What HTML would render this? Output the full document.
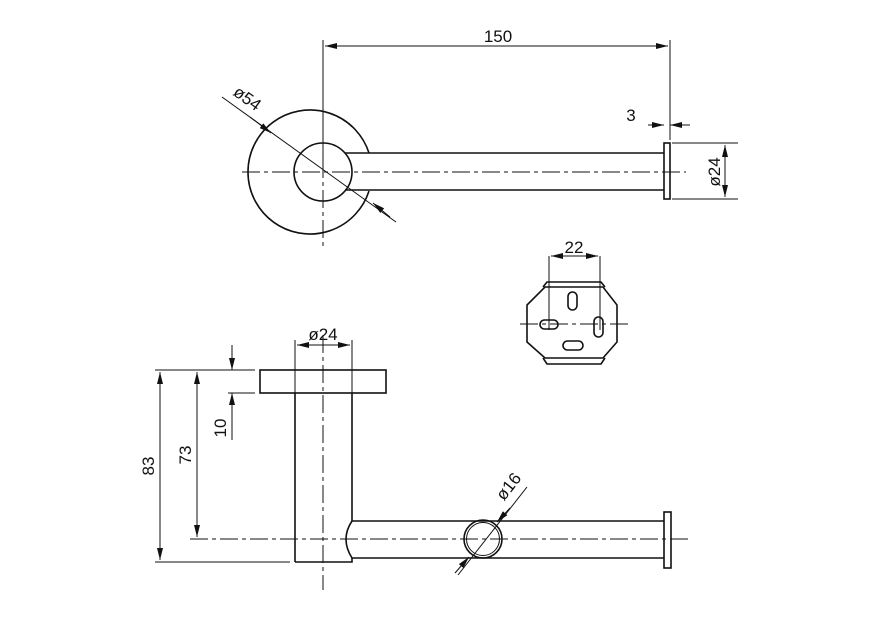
<!DOCTYPE html>
<html><head><meta charset="utf-8"><style>body{margin:0;background:#fff}svg{display:block}text{font-family:"Liberation Sans",sans-serif;font-size:17px;fill:#111}</style></head><body>
<svg width="884" height="630" viewBox="0 0 884 630" xmlns="http://www.w3.org/2000/svg">
<defs><marker id="a" viewBox="0 0 12 6" refX="12" refY="3" markerWidth="12" markerHeight="6" orient="auto-start-reverse" markerUnits="userSpaceOnUse"><path d="M0,0L12,3L0,6z" fill="#111"/></marker></defs>
<g stroke="#111" stroke-width="1.6" fill="none">
<!-- top view -->
<path d="M369,153 A62,62 0 1 0 369,191"/>
<circle cx="323" cy="172" r="29"/>
<path d="M345,153H664M345,190H664"/>
<rect x="664" y="143" width="6" height="56"/>
<!-- bracket -->
<path d="M545,287H603L617,305V342L603,358H545L527,342V305Z"/>
<path d="M543,287L547,282H601L605,287M543,358L547,364H601L605,358"/>
<rect x="540" y="320" width="18" height="9" rx="4.5"/>
<rect x="568" y="292" width="9" height="18" rx="4.5"/>
<rect x="594" y="317" width="9" height="20" rx="4.5"/>
<rect x="563" y="341" width="20" height="9" rx="4.5"/>
<!-- bottom view -->
<rect x="260" y="370" width="126" height="23"/>
<path d="M295,393V562M352,393V521M295,562H352V558"/>
<path d="M352,521H664M352,558H664M352,521Q340,539 352,558"/>
<rect x="664" y="512" width="7" height="56"/>
<circle cx="483" cy="539" r="19"/>
<circle cx="483" cy="539" r="16.5" stroke-width="1"/>
</g>
<g stroke="#111" stroke-width="1" fill="none">
<path d="M242,172H686M323,40V250M520,324H630M323,335V590M190,539H690" stroke-dasharray="18,4,4,4"/>
<path d="M323,40V172M670,40V140"/>
<path d="M325,46H668" marker-start="url(#a)" marker-end="url(#a)"/>
<path d="M648,125H664" marker-end="url(#a)"/><path d="M690,125H670" marker-end="url(#a)"/>
<path d="M672,143H738M672,199H738"/>
<path d="M725,145V197" marker-start="url(#a)" marker-end="url(#a)"/>
<path d="M222,97L396,222"/>
<path d="M250,117L271,133" marker-end="url(#a)"/><path d="M390,217L373,203" marker-end="url(#a)"/>
<path d="M549,256V330M600,256V330"/>
<path d="M551,256H598" marker-start="url(#a)" marker-end="url(#a)"/>
<path d="M295,340V393M352,340V393"/>
<path d="M297,345H350" marker-start="url(#a)" marker-end="url(#a)"/>
<path d="M155,370H255M228,393H255M155,562H290"/>
<path d="M160,372V560" marker-start="url(#a)" marker-end="url(#a)"/>
<path d="M197,372V537" marker-start="url(#a)" marker-end="url(#a)"/>
<path d="M232,345V370" marker-end="url(#a)"/><path d="M232,440V393" marker-end="url(#a)"/>
<path d="M458,575L527,487"/>
<path d="M510,508L497,522" marker-end="url(#a)"/><path d="M455,573L469,557" marker-end="url(#a)"/>
</g>
<text x="498" y="42" text-anchor="middle">150</text>
<text x="631" y="121" text-anchor="middle">3</text>
<text x="574" y="253" text-anchor="middle">22</text>
<text x="323" y="340" text-anchor="middle">ø24</text>
<text transform="translate(720,172) rotate(-90)" text-anchor="middle">ø24</text>
<text transform="translate(244,103) rotate(36)" text-anchor="middle">ø54</text>
<text transform="translate(154,466) rotate(-90)" text-anchor="middle">83</text>
<text transform="translate(191,455) rotate(-90)" text-anchor="middle">73</text>
<text transform="translate(226,428) rotate(-90)" text-anchor="middle">10</text>
<text transform="translate(513,490) rotate(-52)" text-anchor="middle">ø16</text>
</svg>
</body></html>
